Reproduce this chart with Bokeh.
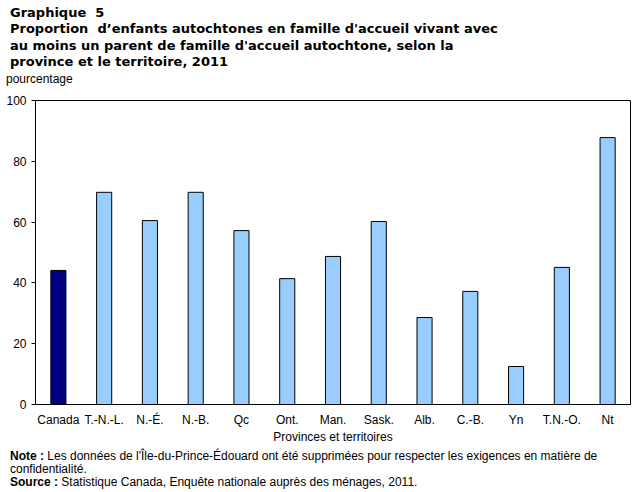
from bokeh.plotting import figure
from bokeh.models import Range1d, FixedTicker, Div
from bokeh.layouts import column
from bokeh.embed import file_html
from bokeh.resources import INLINE

categories = ["Canada", "T.-N.-L.", "N.-É.", "N.-B.", "Qc", "Ont.", "Man.",
              "Sask.", "Alb.", "C.-B.", "Yn", "T.N.-O.", "Nt"]
values = [44.1, 69.8, 60.5, 69.8, 57.2, 41.4, 48.7, 60.2, 28.6, 37.2, 12.5, 45.1, 87.8]
colors = ["#000080"] + ["#99CCFF"] * 12
y_ticks = [0, 20, 40, 60, 80, 100]

title_lines = [
    "Graphique&nbsp; 5",
    "Proportion&nbsp; d’enfants autochtones en famille d'accueil vivant avec",
    "au moins un parent de famille d'accueil autochtone, selon la",
    "province et le territoire, 2011",
]
unit_label = "pourcentage"
x_axis_title = "Provinces et territoires"
note_bold = "Note :"
note_text1 = "Les données de l'Île-du-Prince-Édouard ont été supprimées pour respecter les exigences en matière de"
note_text2 = "confidentialité."
source_bold = "Source :"
source_text = "Statistique Canada, Enquête nationale auprès des ménages, 2011."

W = 643
TOP_H, FIG_H, BOT_H = 88, 358, 46
sans = "Liberation Sans"

top_html = (
    f'<div style="font-family:\'DejaVu Sans\';font-size:13px;font-weight:bold;'
    f'line-height:16.3px;color:#000;padding:5px 0 0 10px;white-space:nowrap">'
    + "<br>".join(title_lines) + "</div>"
    f'<div style="font-family:\'{sans}\';font-size:12px;line-height:14px;color:#000;'
    f'padding:2px 0 0 6px">{unit_label}</div>'
)
top = Div(text=top_html, width=W, height=TOP_H, margin=(0, 0, 0, 0))

p = figure(width=W, height=FIG_H, x_range=categories, y_range=Range1d(0, 100),
           output_backend="svg", toolbar_location=None,
           min_border_left=35, min_border_right=13, min_border_top=12,
           min_border_bottom=42, margin=(0, 0, 0, 0))
p.vbar(x=categories, top=values, width=0.33, fill_color=colors,
       line_color="black", line_width=1)

p.outline_line_color = "black"
p.outline_line_width = 1
p.xgrid.visible = False
p.ygrid.visible = False

p.yaxis.ticker = FixedTicker(ticks=y_ticks)
p.yaxis.major_tick_out = 4
p.yaxis.major_tick_in = 0
p.yaxis.minor_tick_line_color = None
p.yaxis.axis_line_color = "black"
p.yaxis.major_label_text_font = sans
p.yaxis.major_label_text_font_size = "12px"
p.yaxis.major_label_text_color = "black"
p.yaxis.major_label_standoff = 5

p.xaxis.major_tick_line_color = None
p.xaxis.minor_tick_line_color = None
p.xaxis.axis_line_color = "black"
p.xaxis.major_label_text_font = sans
p.xaxis.major_label_text_font_size = "12px"
p.xaxis.major_label_text_color = "black"
p.xaxis.major_label_standoff = 2
p.xaxis.axis_label = x_axis_title
p.xaxis.axis_label_text_font = sans
p.xaxis.axis_label_text_font_size = "12px"
p.xaxis.axis_label_text_font_style = "normal"
p.xaxis.axis_label_text_color = "black"
p.xaxis.axis_label_standoff = 0

bot_html = (
    f'<div style="font-family:\'{sans}\';font-size:12px;line-height:13px;color:#000;'
    f'padding:4px 0 0 10px;white-space:nowrap">'
    f'<b>{note_bold}</b> {note_text1}<br>{note_text2}<br>'
    f'<b>{source_bold}</b> {source_text}</div>'
)
bottom = Div(text=bot_html, width=W, height=BOT_H, margin=(0, 0, 0, 0))

layout = column(top, p, bottom, spacing=0, margin=(0, 0, 0, 0))
open("out.html", "w").write(file_html(layout, INLINE))
